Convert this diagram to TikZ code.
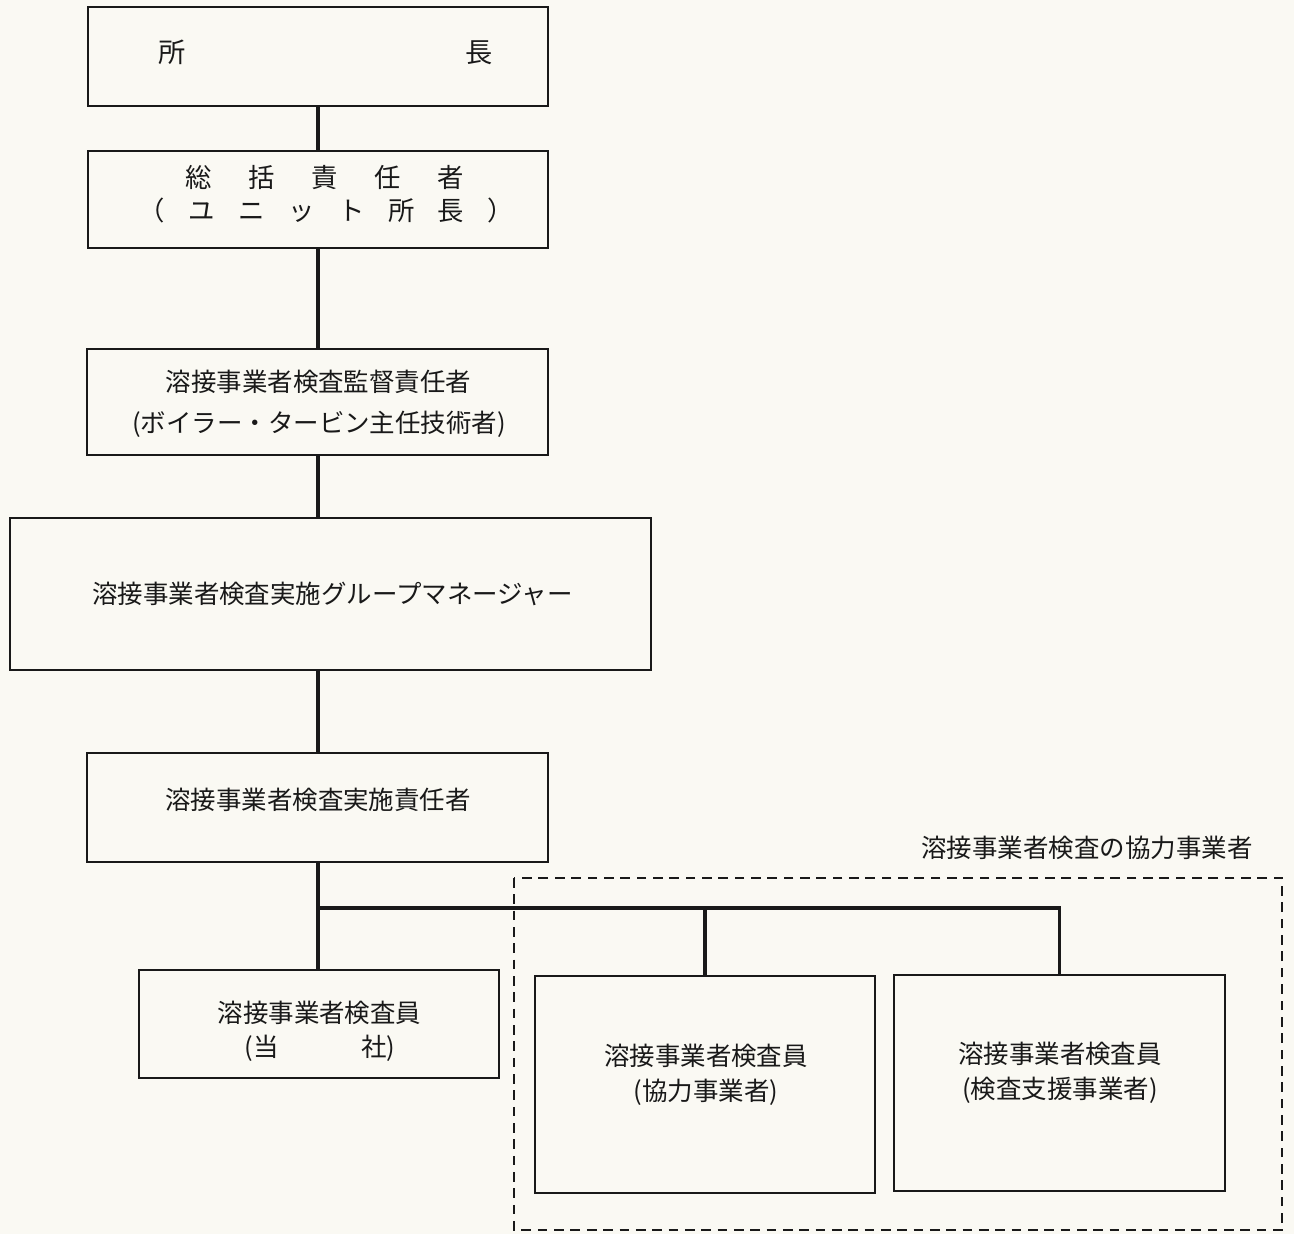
\documentclass[tikz,border=0pt]{standalone}
\usepackage{fontspec}
\setmainfont{Noto Sans CJK JP}
\definecolor{paper}{RGB}{250,249,243}
\definecolor{ink}{RGB}{25,25,25}
\begin{document}
\begin{tikzpicture}[x=0.02cm,y=-0.02cm,
  box/.style={draw=ink,line width=1.1pt,rectangle,inner sep=0pt},
  conn/.style={draw=ink,line width=2.1pt},
  lbl/.style={inner sep=0pt,text=ink,font=\fontsize{14.5pt}{17pt}\selectfont},
  group/.style={draw=ink,line width=1pt,dash pattern=on 5.5pt off 3.8pt}]
\fill[paper] (0,0) rectangle (1294,1234);
\useasboundingbox (0,0) rectangle (1294,1234);
% boxes
\node[box,minimum width=9.2cm,minimum height=1.98cm] (b1) at (318,56.5) {};
\node[box,minimum width=9.2cm,minimum height=1.94cm] (b2) at (318,199.5) {};
\node[box,minimum width=9.22cm,minimum height=2.12cm] (b3) at (317.5,402) {};
\node[box,minimum width=12.82cm,minimum height=3.04cm] (b4) at (330.5,594) {};
\node[box,minimum width=9.22cm,minimum height=2.18cm] (b5) at (317.5,807.5) {};
\node[box,minimum width=7.2cm,minimum height=2.16cm] (b6) at (319,1024) {};
\node[box,minimum width=6.8cm,minimum height=4.34cm] (b7) at (705,1084.5) {};
\node[box,minimum width=6.62cm,minimum height=4.32cm] (b8) at (1059.5,1083) {};
% dashed group
\coordinate (g1) at (514,878);
\coordinate (g2) at (1282,1230);
\draw[group] (g1) rectangle (g2);
\node[lbl] (gl) at (1087,848) {溶接事業者検査の協力事業者};
% texts
\node[lbl,font=\fontsize{15.5pt}{18pt}\selectfont] (t1) at (326,52) {所\hspace{5.6cm}長};
\node[lbl,font=\fontsize{15pt}{18pt}\selectfont] (t2a) at (324.5,178) {総\hspace{0.73cm}括\hspace{0.73cm}責\hspace{0.73cm}任\hspace{0.73cm}者};
\node[lbl,font=\fontsize{15pt}{18pt}\selectfont] (t2b) at (326.5,210) {（\hspace{0.47cm}ユ\hspace{0.47cm}ニ\hspace{0.47cm}ッ\hspace{0.47cm}ト\hspace{0.47cm}所\hspace{0.47cm}長\hspace{0.47cm}）};
\node[lbl] (t3a) at (318.5,382) {溶接事業者検査監督責任者};
\node[lbl] (t3b) at (319,424) {(ボイラー・タービン主任技術者)};
\node[lbl] (t4) at (332.5,594) {溶接事業者検査実施グループマネージャー};
\node[lbl] (t5) at (318,800) {溶接事業者検査実施責任者};
\node[lbl] (t6a) at (319.5,1013) {溶接事業者検査員};
\node[lbl] (t6b) at (320,1048) {(当\hspace{1.65cm}社)};
\node[lbl] (t7a) at (706,1056) {溶接事業者検査員};
\node[lbl] (t7b) at (706,1092) {(協力事業者)};
\node[lbl] (t8a) at (1060,1054) {溶接事業者検査員};
\node[lbl] (t8b) at (1060,1090) {(検査支援事業者)};
% connectors
\coordinate (j) at (318,908);
\draw[conn] (b1.south -| j) -- (b2.north -| j);
\draw[conn] (b2.south -| j) -- (b3.north -| j);
\draw[conn] (b3.south -| j) -- (b4.north -| j);
\draw[conn] (b4.south -| j) -- (b5.north -| j);
\draw[conn] (b5.south -| j) -- (b6.north -| j);
\draw[conn] (j) -- (j -| b8.north) -- (b8.north);
\draw[conn] (j -| b7.north) -- (b7.north);
\end{tikzpicture}
\end{document}
